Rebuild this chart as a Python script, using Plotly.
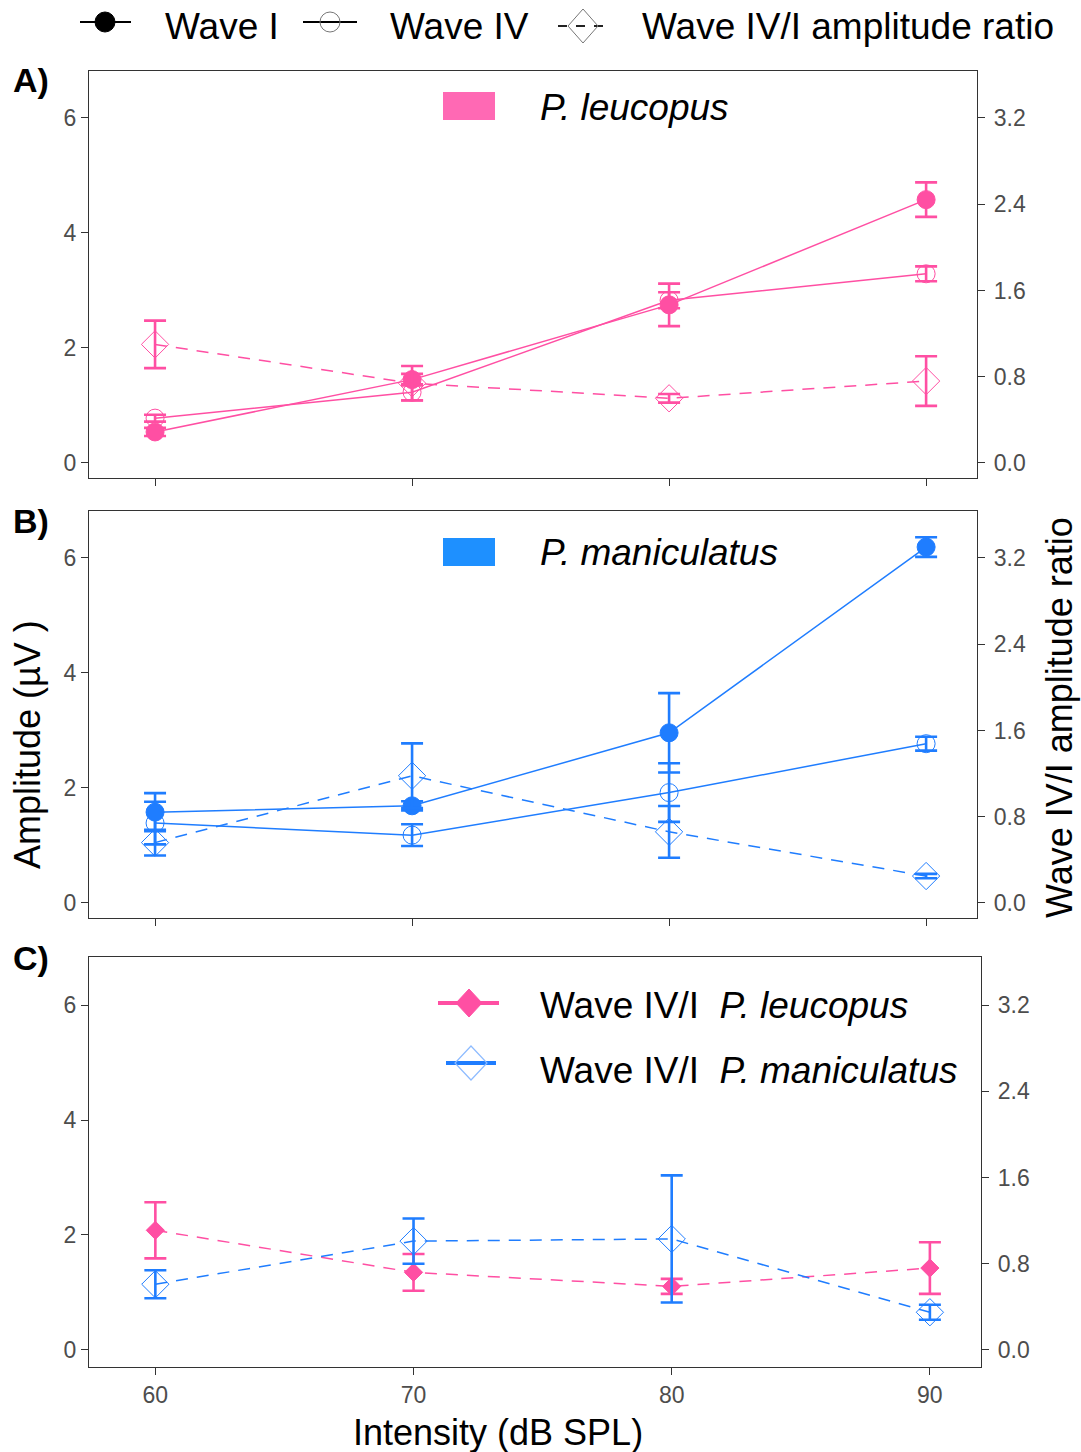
import plotly.graph_objects as go

# ---------------- data ----------------
intensity = [60, 70, 80, 90]

# Panel A: P. leucopus
leu_wave1 = [0.54, 1.45, 2.75, 4.58]
leu_wave1_err = [0.07, 0.10, 0.37, 0.30]
leu_wave4 = [0.78, 1.23, 2.83, 3.29]
leu_wave4_err = [0.06, 0.14, 0.14, 0.13]
leu_ratio = [1.10, 0.74, 0.60, 0.76]
leu_ratio_err = [0.22, 0.16, 0.04, 0.23]

# Panel B: P. maniculatus
man_wave1 = [1.58, 1.69, 2.96, 6.19]
man_wave1_err = [0.33, 0.08, 0.69, 0.17]
man_wave4 = [1.39, 1.18, 1.92, 2.77]
man_wave4_err = [0.37, 0.19, 0.51, 0.12]
man_ratio = [0.56, 1.18, 0.66, 0.25]
man_ratio_err = [0.12, 0.30, 0.24, 0.02]

# Panel C: wave IV/I ratio per species
leu_ratio_c = [1.11, 0.72, 0.59, 0.76]
leu_ratio_c_err = [0.26, 0.17, 0.07, 0.24]
man_ratio_c = [0.61, 1.01, 1.03, 0.35]
man_ratio_c_err = [0.13, 0.21, 0.59, 0.07]

left_ticks = [0, 2, 4, 6]
right_ticks = [0.0, 0.8, 1.6, 2.4, 3.2]
x_ticks = [60, 70, 80, 90]

# ---------------- style ----------------
W, H = 1081, 1452
PINK = "#FF4FA3"
PINK_KEY = "#FF69B4"
BLUE = "#1F7DFF"
BLUE_KEY = "#1E90FF"
AXC = "#333333"
FONT = "Liberation Sans, Arial, Helvetica, sans-serif"
SCALE = 6 / 3.2  # left units per ratio unit


def px(x):
    return x / W


def py(y):
    return 1 - y / H


fig = go.Figure()


def add_series(x, y, err, color, xa, ya, symbol, size, dash=None, mline=1):
    fig.add_trace(go.Scatter(
        x=x, y=y, mode="lines+markers",
        error_y=dict(type="data", array=err, visible=True, color=color,
                     thickness=2.6, width=11),
        line=dict(color=color, width=1.5, dash=dash),
        marker=dict(symbol=symbol, size=size, color=color,
                    line=dict(color=color, width=mline)),
        xaxis=xa, yaxis=ya, showlegend=False, hoverinfo="x+y"))


DASH = "12px,9px"
# Panel A
add_series(intensity, leu_ratio, leu_ratio_err, PINK, "x", "y2", "diamond-open", 21, DASH)
add_series(intensity, leu_wave4, leu_wave4_err, PINK, "x", "y", "circle-open", 18)
add_series(intensity, leu_wave1, leu_wave1_err, PINK, "x", "y", "circle", 18)
# Panel B
add_series(intensity, man_ratio, man_ratio_err, BLUE, "x2", "y4", "diamond-open", 21, DASH)
add_series(intensity, man_wave4, man_wave4_err, BLUE, "x2", "y3", "circle-open", 18)
add_series(intensity, man_wave1, man_wave1_err, BLUE, "x2", "y3", "circle", 18)
# Panel C (empty trace registers the base subplot)
fig.add_trace(go.Scatter(x=[], y=[], xaxis="x3", yaxis="y5", showlegend=False,
                         hoverinfo="skip"))
add_series(intensity, leu_ratio_c, leu_ratio_c_err, PINK, "x3", "y6", "diamond", 14, DASH)
add_series(intensity, man_ratio_c, man_ratio_c_err, BLUE, "x3", "y6", "diamond-open", 21, DASH)

tickfont = dict(family=FONT, size=23, color="#4d4d4d")
common = dict(showgrid=False, zeroline=False, showline=True, linecolor=AXC,
              linewidth=1.3, ticks="outside", ticklen=7, tickwidth=1.3,
              tickcolor=AXC, tickfont=tickfont)

xr = [57.43, 91.98]
dom_ab = [px(89), px(977)]
dom_c = [px(89), px(981)]
yA = [py(478), py(71)]
yB = [py(918), py(511)]
yC = [py(1367), py(957)]
rngAB = [-0.261, 6.817]
rngC = [-0.296, 6.835]

layout_axes = dict(
    xaxis=dict(domain=dom_ab, range=xr, anchor="y", tickvals=x_ticks,
               showticklabels=False, mirror=True, **common),
    yaxis=dict(domain=yA, range=rngAB, anchor="x", tickvals=left_ticks,
               mirror=True, **common),
    yaxis2=dict(overlaying="y", side="right", anchor="x",
                range=[r / SCALE for r in rngAB], tickvals=right_ticks,
                tickformat=".1f", ticklabelstandoff=4, **common),
    xaxis2=dict(domain=dom_ab, range=xr, anchor="y3", tickvals=x_ticks,
                showticklabels=False, mirror=True, **common),
    yaxis3=dict(domain=yB, range=rngAB, anchor="x2", tickvals=left_ticks,
                mirror=True, **common),
    yaxis4=dict(overlaying="y3", side="right", anchor="x2",
                range=[r / SCALE for r in rngAB], tickvals=right_ticks,
                tickformat=".1f", ticklabelstandoff=4, **common),
    xaxis3=dict(domain=dom_c, range=xr, anchor="y5", tickvals=x_ticks,
                mirror=True, **common),
    yaxis5=dict(domain=yC, range=rngC, anchor="x3", tickvals=left_ticks,
                mirror=True, **common),
    yaxis6=dict(overlaying="y5", side="right", anchor="x3",
                range=[r / SCALE for r in rngC], tickvals=right_ticks,
                tickformat=".1f", ticklabelstandoff=4, **common),
)

annotations = []
shapes = []

DX = -2  # annotation box padding


def text(x, y, s, size=36, anchor="left", bold=False, angle=0, color="black"):
    if bold:
        s = "<b>" + s + "</b>"
    if angle == 0 and anchor == "left":
        x = x + DX
    annotations.append(dict(x=px(x), y=py(y), xref="paper", yref="paper",
                            text=s, showarrow=False, xanchor=anchor,
                            yanchor="middle", textangle=angle,
                            font=dict(family=FONT, size=size, color=color)))


def line(x0, x1, y, color, width=1.5, dash=None):
    shapes.append(dict(type="line", xref="paper", yref="paper",
                       x0=px(x0), x1=px(x1), y0=py(y), y1=py(y),
                       line=dict(color=color, width=width, dash=dash)))


def circle(cx, cy, r, fill, color, width=1):
    shapes.append(dict(type="circle", xref="paper", yref="paper",
                       x0=px(cx - r), x1=px(cx + r), y0=py(cy + r), y1=py(cy - r),
                       fillcolor=fill, line=dict(color=color, width=width)))


def diamond(cx, cy, hw, hh, fill, color, width=1):
    p = "M {},{} L {},{} L {},{} L {},{} Z".format(
        px(cx), py(cy - hh), px(cx + hw), py(cy), px(cx), py(cy + hh),
        px(cx - hw), py(cy))
    shapes.append(dict(type="path", xref="paper", yref="paper", path=p,
                       fillcolor=fill, line=dict(color=color, width=width)))


# top legend
line(80, 131, 22, "black", 2)
circle(105, 22, 10, "black", "black")
text(165, 27, "Wave I", 37)
line(303, 357, 22, "black", 2)
circle(330, 22, 10, "rgba(0,0,0,0)", "#777777", 1)
text(390, 27, "Wave IV", 37)
line(558, 608, 26, "#222222", 1.8, "dash")
diamond(583, 26, 15, 17, "rgba(0,0,0,0)", "#777777", 1)
text(642, 27, "Wave IV/I amplitude ratio", 37)

# panel labels
text(13, 80, "A)", 34, bold=True)
text(13, 521, "B)", 34, bold=True)
text(13, 958, "C)", 34, bold=True)

# panel A/B legends
shapes.append(dict(type="rect", xref="paper", yref="paper", x0=px(443), x1=px(495),
                   y0=py(120), y1=py(92), fillcolor=PINK_KEY, line=dict(width=0)))
text(540, 108, "<i>P. leucopus</i>", 37)
shapes.append(dict(type="rect", xref="paper", yref="paper", x0=px(443), x1=px(495),
                   y0=py(566), y1=py(538), fillcolor=BLUE_KEY, line=dict(width=0)))
text(540, 552, "<i>P. maniculatus</i>", 37)

# panel C legend
line(438, 499, 1003, PINK, 4)
diamond(469, 1003, 13, 14, PINK, PINK, 1)
text(540, 1005, "Wave IV/I\u00a0\u00a0<i>P. leucopus</i>", 37)
line(446, 496, 1063, BLUE, 4)
diamond(471, 1063, 16, 17, "rgba(0,0,0,0)", "#8DBBFF", 1.2)
text(540, 1070, "Wave IV/I\u00a0\u00a0<i>P. maniculatus</i>", 37)

# axis titles
text(498, 1432, "Intensity (dB SPL)", 36, anchor="center")
text(27, 745, "Amplitude (µV )", 36, anchor="center", angle=-90)
text(1060, 718, "Wave IV/I amplitude ratio", 36, anchor="center", angle=-90)

fig.update_layout(
    width=W, height=H,
    margin=dict(l=0, r=0, t=0, b=0),
    paper_bgcolor="white", plot_bgcolor="white",
    showlegend=False,
    annotations=annotations, shapes=shapes,
    font=dict(family=FONT),
    **layout_axes,
)

fig.write_html("out.html",
               config={"displayModeBar": False},
               post_script="document.body.style.margin='0';"
                           "document.body.style.overflow='hidden';")
